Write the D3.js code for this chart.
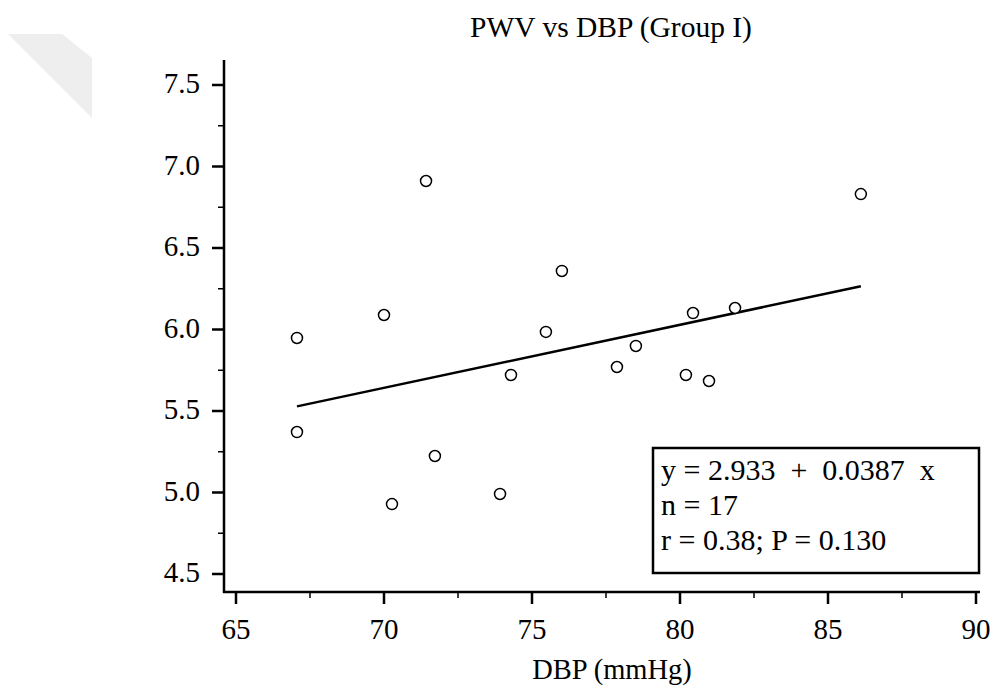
<!DOCTYPE html>
<html><head><meta charset="utf-8">
<script src="https://cdn.jsdelivr.net/npm/d3@7"></script>
<style>body{margin:0;background:#fff}svg{display:block}</style>
</head><body><svg id="c" width="1002" height="688"></svg>
<script>
const dbp = [67.06,67.06,70.0,70.27,71.42,71.72,73.92,74.29,75.47,76.01,77.87,78.51,80.20,80.44,80.98,81.86,86.11];
const pwv = [5.948,5.371,6.089,4.929,6.911,5.224,4.991,5.721,5.985,6.359,5.770,5.899,5.721,6.101,5.684,6.132,6.831];
const xTicks = [65,70,75,80,85,90];
const yTicks = [4.5,5.0,5.5,6.0,6.5,7.0,7.5];
const intercept = 2.933, slope = 0.0387;
const legendLines = ["y = 2.933  +  0.0387  x","n = 17","r = 0.38; P = 0.130"];
const title = "PWV vs DBP (Group I)";
const xLabel = "DBP (mmHg)";
const FONT = "'Liberation Serif', 'Times New Roman', 'DejaVu Serif', serif";

const svg = d3.select("#c");
svg.append("polygon").attr("points","8,34 62,34 92,58 92,118").attr("fill","#eeeeee");

const x = d3.scaleLinear().domain([65,90]).range([236,976]);
const y = d3.scaleLinear().domain([4.5,7.5]).range([574,85]);
const axisY = 592, axisX = 224;
const txt = (xx,yy,s,size,anchor)=>svg.append("text").attr("x",xx).attr("y",yy).attr("font-family",FONT).attr("font-size",size).attr("text-anchor",anchor||"start").attr("fill","#000").style("white-space","pre").text(s);

svg.append("line").attr("x1",axisX).attr("x2",axisX).attr("y1",60).attr("y2",axisY+1).attr("stroke","#000").attr("stroke-width",2.5);
yTicks.forEach(v=>{
  svg.append("line").attr("x1",axisX-12).attr("x2",axisX).attr("y1",y(v)).attr("y2",y(v)).attr("stroke","#000").attr("stroke-width",2.5);
  txt(200,y(v)+8,v.toFixed(1),29,"end");
});
d3.range(4.75,7.5,0.5).forEach(v=>{
  svg.append("line").attr("x1",axisX-6).attr("x2",axisX).attr("y1",y(v)).attr("y2",y(v)).attr("stroke","#000").attr("stroke-width",1.5);
});
svg.append("line").attr("x1",axisX-1).attr("x2",980).attr("y1",axisY).attr("y2",axisY).attr("stroke","#000").attr("stroke-width",2.5);
xTicks.forEach(v=>{
  svg.append("line").attr("x1",x(v)).attr("x2",x(v)).attr("y1",axisY).attr("y2",axisY+12).attr("stroke","#000").attr("stroke-width",2.5);
  txt(x(v),639,String(v),29,"middle");
});
d3.range(67.5,90,5).forEach(v=>{
  svg.append("line").attr("x1",x(v)).attr("x2",x(v)).attr("y1",axisY).attr("y2",axisY+6).attr("stroke","#000").attr("stroke-width",1.5);
});

const x0 = d3.min(dbp), x1 = d3.max(dbp);
svg.append("line").attr("x1",x(x0)).attr("y1",y(intercept+slope*x0)).attr("x2",x(x1)).attr("y2",y(intercept+slope*x1)).attr("stroke","#000").attr("stroke-width",2.5);

svg.selectAll("circle.p").data(dbp.map((d,i)=>[d,pwv[i]])).enter().append("circle")
  .attr("cx",d=>x(d[0])).attr("cy",d=>y(d[1])).attr("r",5.5).attr("fill","#fff").attr("stroke","#000").attr("stroke-width",1.5);

svg.append("rect").attr("x",653).attr("y",448).attr("width",326).attr("height",125).attr("fill","#fff").attr("stroke","#000").attr("stroke-width",2.5);
legendLines.forEach((t,i)=>txt(661,480+i*35,t,30,"start"));

txt(611,37,title,29.5,"middle");
txt(612,679,xLabel,28.5,"middle");
</script></body></html>
